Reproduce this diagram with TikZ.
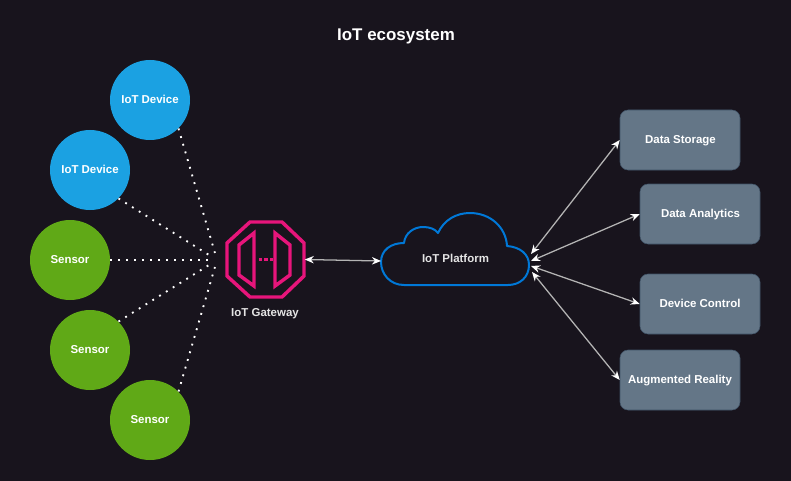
\documentclass[tikz,border=0pt]{standalone}
\usepackage{fontspec}
\usetikzlibrary{arrows.meta}
\setmainfont{Liberation Sans}
\definecolor{bgdark}{HTML}{18141D}
\definecolor{devblue}{HTML}{1BA1E2}
\definecolor{sensgreen}{HTML}{60A917}
\definecolor{appgray}{HTML}{647687}
\definecolor{appedge}{HTML}{3F5266}
\definecolor{gwpink}{HTML}{E7157B}
\definecolor{cloudblue}{HTML}{0078D7}
\definecolor{linkgray}{HTML}{B4B4B4}
\definecolor{labelgray}{HTML}{E4E4E4}
\tikzset{
 lbl/.style={font=\bfseries\fontsize{8.6}{11}\selectfont, text height=6.4pt, text depth=1.9pt},
 devnode/.style={circle, minimum size=60, inner sep=0, fill=devblue, text=white, lbl, text height=7.8pt},
 sensnode/.style={devnode, fill=sensgreen},
 appnode/.style={rectangle, rounded corners=6, minimum width=90, minimum height=45, inner sep=0, fill=appgray, draw=appedge, text=white, lbl},
 dotlink/.style={white, line width=1.4pt, dash pattern=on 1.4pt off 4.6pt, shorten >=5.5pt},
 arrlink/.style={linkgray, line width=.95pt, {Stealth[length=6.8pt,width=5.6pt,color=white]}-{Stealth[length=6.8pt,width=5.6pt,color=white]}},
 gwline/.style={gwpink, line width=2.6pt, line join=miter}
}
\begin{document}
\begin{tikzpicture} [x=.75pt, y=-.75pt, line join=round]
 \fill[bgdark] (0,0) rectangle (791,481);
 \useasboundingbox (0,0) rectangle (791,481);
 \node[text=white, font=\bfseries\fontsize{12.7}{14}\selectfont] (title) at (396,36) {IoT ecosystem};
 % devices and sensors
 \node[devnode] (dev1) at (150,100) {IoT Device};
 \node[devnode] (dev2) at (90,170) {IoT Device};
 \node[sensnode] (sens1) at (70,260) {Sensor};
 \node[sensnode] (sens2) at (90,350) {Sensor};
 \node[sensnode] (sens3) at (150,420) {Sensor};
 % gateway
 \node[minimum width=58.5, minimum height=56.5, inner sep=0] (gw) at (265.5,259.5) {};
 \draw[gwline] (250,222)--(282,222)--(304,243)--(304,276)--(282,297)--(250,297)--(227,276)--(227,243)--cycle;
 \draw[gwline] (254,233)--(254,286)--(239,275)--(239,245)--cycle;
 \draw[gwline] (275,233)--(275,286)--(290,275)--(290,245)--cycle;
 \draw[gwpink, line width=2.4pt, dash pattern=on 2.4pt off 1.7pt] (259,259.5)--(273,259.5);
 \node[text=labelgray, lbl] (gwlabel) at (265,313) {IoT Gateway};
 % cloud
 \draw[cloudblue, line width=1.5pt] (404,285) .. controls (390,285) and (381,274) .. (381,262) .. controls (381,250) and (391,243) .. (404,243) .. controls (405,233) and (414,227) .. (423,227) .. controls (430,227) and (435,229) .. (438,233) .. controls (444,220) and (456,213) .. (470,213) .. controls (490,213) and (506,227) .. (507,246) .. controls (520,247) and (529,254) .. (529,265) .. controls (529,277) and (520,285) .. (508,285) -- cycle;
 \node[text=labelgray, lbl] (cloudlabel) at (455.5,259.5) {IoT Platform};
 \coordinate (cin) at (381,261);
 \coordinate (cout1) at (531,254);
 \coordinate (cout2) at (531,261);
 \coordinate (cout3) at (531,266);
 \coordinate (cout4) at (532,272);
 \coordinate (hub) at (217,260);
 % apps
 \node[appnode] (store) at (680,140) {};
 \node[lbl, text=white] (storelabel) at (680.5,140) {Data Storage};
 \node[appnode] (analytics) at (700,214) {};
 \node[lbl, text=white] (analyticslabel) at (700.5,214) {Data Analytics};
 \node[appnode] (control) at (700,304) {};
 \node[lbl, text=white] (controllabel) at (700,304) {Device Control};
 \node[appnode] (ar) at (680,380) {Augmented Reality};
 % links
 \foreach \n/\a in {dev1/-45, dev2/-45, sens1/0, sens2/45, sens3/45} \draw[dotlink] (\n.\a)--(hub);
 \draw[arrlink] (gw.east)--(cin);
 \draw[arrlink] (cout1)--(store.west);
 \draw[arrlink] (cout2)--(analytics.west);
 \draw[arrlink] (cout3)--(control.west);
 \draw[arrlink] (cout4)--(ar.west);
\end{tikzpicture}
\end{document}
